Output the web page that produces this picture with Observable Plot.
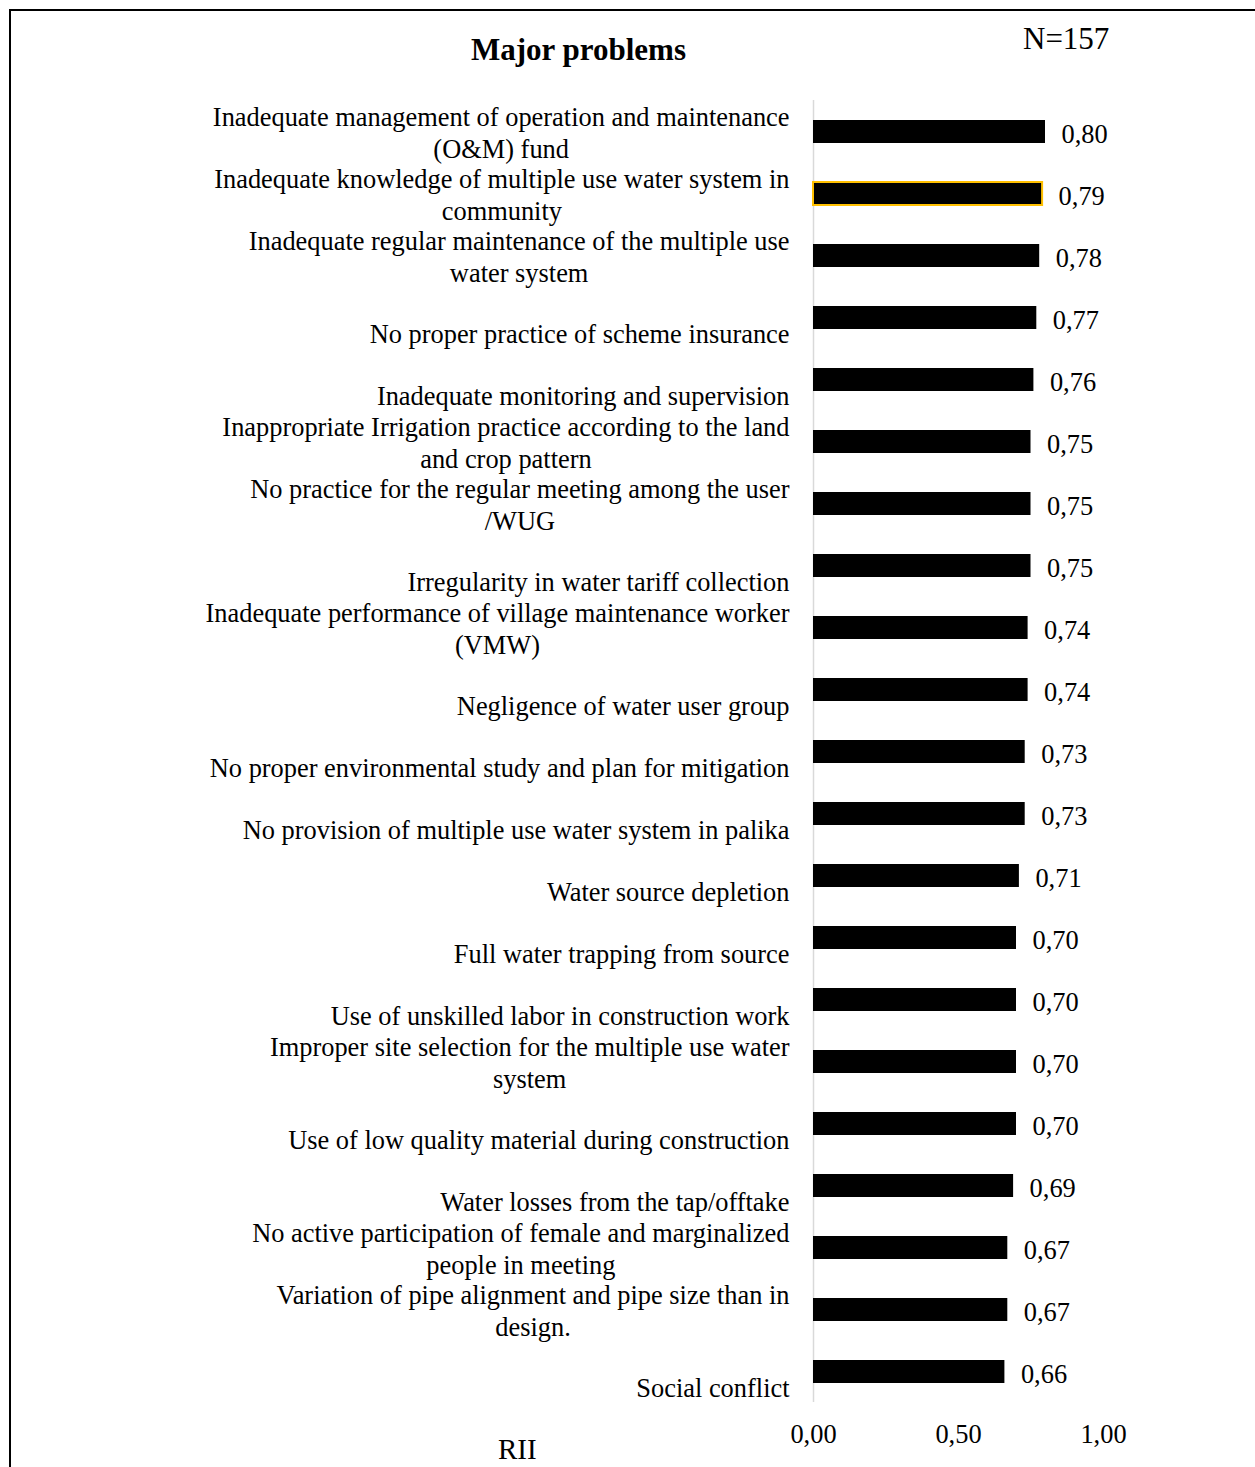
<!DOCTYPE html>
<html>
<head>
<meta charset="utf-8">
<script src="https://cdn.jsdelivr.net/npm/d3@7"></script>
<script src="https://cdn.jsdelivr.net/npm/@observablehq/plot@0.6"></script>
<style>
  html, body { margin: 0; padding: 0; background: #fff; }
  body { width: 1255px; height: 1467px; position: relative; overflow: hidden;
         font-family: "Liberation Serif", "Times New Roman", serif; color: #000; }
  #frame { position: absolute; left: 9px; top: 9px; width: 1260px; height: 1480px;
           border-top: 2px solid #000; border-left: 2px solid #000; }
  #chart { position: absolute; left: 0; top: 0; }
  .txt { position: absolute; white-space: nowrap; line-height: 1; }
  #title { left: 471px; top: 34px; font-size: 31px; font-weight: bold; }
  #n { left: 1023px; top: 23px; font-size: 31px; }
  #rii { left: 498px; top: 1435px; font-size: 29px; }
</style>
</head>
<body>
<div id="frame"></div>
<div id="chart"></div>
<div id="title" class="txt">Major problems</div>
<div id="n" class="txt">N=157</div>
<div id="rii" class="txt">RII</div>
<script>
// ---- data (top to bottom) ----
const categories = [
  "Inadequate management of operation and maintenance\n(O&M) fund",
  "Inadequate knowledge of multiple use water system in\ncommunity",
  "Inadequate regular maintenance of the multiple use\nwater system",
  "No proper practice of scheme insurance",
  "Inadequate monitoring and supervision",
  "Inappropriate Irrigation practice according to the land\nand crop pattern",
  "No practice for the regular meeting among the user\n/WUG",
  "Irregularity in water tariff collection",
  "Inadequate performance of village maintenance worker\n(VMW)",
  "Negligence of water user group",
  "No proper environmental study and plan for mitigation",
  "No provision of multiple use water system in palika",
  "Water source depletion",
  "Full water trapping from source",
  "Use of unskilled labor in construction work",
  "Improper site selection for the multiple use water\nsystem",
  "Use of low quality material during construction",
  "Water losses from the tap/offtake",
  "No active participation of female and marginalized\npeople in meeting",
  "Variation of pipe alignment and pipe size than in\ndesign.",
  "Social conflict"
];
const rii = [0.80, 0.79, 0.78, 0.77, 0.76, 0.75, 0.75, 0.75, 0.74, 0.74, 0.73, 0.73,
             0.71, 0.70, 0.70, 0.70, 0.70, 0.69, 0.67, 0.67, 0.66];
const highlighted = ["Inadequate knowledge of multiple use water system in\ncommunity"];
const xTicks = [0, 0.5, 1];

// ---- build ----
const rows = categories.map((c, i) => ({category: c, value: rii[i]}));
const fmt = v => d3.format(".2f")(v).replace(".", ",");
const FONT = '"Liberation Serif", "Times New Roman", serif';
const FS = 26.4;

const ctx = document.createElement("canvas").getContext("2d");
ctx.font = `${FS}px "Liberation Serif"`;
const blockWidth = c => d3.max(c.split("\n"), l => ctx.measureText(l).width);

const labelMarks = rows.map(r => {
  const multi = r.category.includes("\n");
  return Plot.text([r], {
    x: () => 0,
    y: "category",
    text: "category",
    textAnchor: "middle",
    lineAnchor: "middle",
    lineHeight: 1.2,
    fontSize: FS,
    fill: "#000",
    dx: -24 - blockWidth(r.category) / 2,
    dy: multi ? 0 : 15
  });
});

const chart = Plot.plot({
  width: 1255,
  height: 1467,
  marginLeft: 813,
  marginRight: 152,
  marginTop: 100,
  marginBottom: 65,
  style: {fontFamily: FONT, fontSize: FS + "px", color: "#000", background: "transparent", overflow: "visible"},
  x: {domain: [0, 1], ticks: xTicks, tickFormat: fmt, tickSize: 0, tickPadding: 22, label: null},
  y: {domain: categories, paddingInner: 0.637, paddingOuter: 0.3185, axis: null},
  marks: [
    Plot.ruleX([0], {stroke: "#d9d9d9", strokeWidth: 1.5}),
    Plot.barX(rows, {
      x: "value", y: "category", fill: "#000",
      stroke: d => highlighted.includes(d.category) ? "#FFC000" : "none",
      strokeWidth: 2
    }),
    Plot.text(rows, {
      x: "value", y: "category", text: d => fmt(d.value),
      textAnchor: "start", dx: 16, dy: 2.5, fontSize: FS, fill: "#000"
    }),
    ...labelMarks
  ]
});
document.getElementById("chart").appendChild(chart);
</script>
</body>
</html>
